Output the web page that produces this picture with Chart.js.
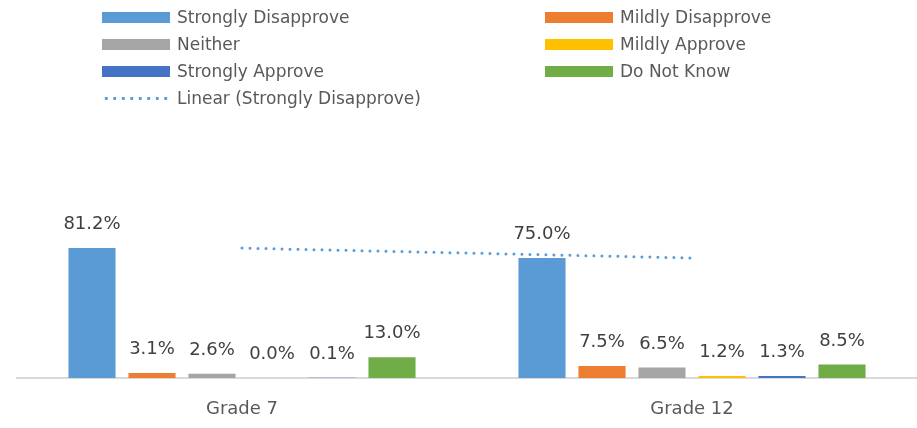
<!DOCTYPE html>
<html>
<head>
<meta charset="utf-8">
<script src="https://cdn.jsdelivr.net/npm/chart.js@4.4.1/dist/chart.umd.min.js"></script>
<style>
  html, body { margin: 0; padding: 0; background: #fff; }
  #wrap { position: relative; width: 917px; height: 428px; overflow: hidden; }
  #c { position: absolute; left: 0; top: 0; }
  .lg { position: absolute; font-family: "DejaVu Sans", sans-serif; font-size: 17px; color: #595959; white-space: nowrap; }
  .lg .sw { position: absolute; width: 68px; height: 11px; }
  .lg .tx { position: absolute; line-height: 20px; }
</style>
</head>
<body>
<div id="wrap">
  <canvas id="c" width="917" height="428"></canvas>
</div>
<script>
// ---- data ----
const categories = ['Grade 7', 'Grade 12'];
const seriesNames = ['Strongly Disapprove', 'Mildly Disapprove', 'Neither', 'Mildly Approve', 'Strongly Approve', 'Do Not Know'];
const stronglyDisapprove = [81.2, 75.0];
const mildlyDisapprove = [3.1, 7.5];
const neither = [2.6, 6.5];
const mildlyApprove = [0.0, 1.2];
const stronglyApprove = [0.1, 1.3];
const doNotKnow = [13.0, 8.5];
const trendName = 'Linear (Strongly Disapprove)';
const seriesColors = ['#5B9BD5', '#ED7D31', '#A5A5A5', '#FFC000', '#4472C4', '#70AD47'];

const seriesValues = [stronglyDisapprove, mildlyDisapprove, neither, mildlyApprove, stronglyApprove, doNotKnow];

const datasets = seriesNames.map((name, i) => ({
  type: 'bar',
  label: name,
  data: seriesValues[i],
  backgroundColor: seriesColors[i],
  categoryPercentage: 0.8,
  barPercentage: 0.785,
  order: 2
}));
datasets.push({
  type: 'line',
  label: trendName,
  data: stronglyDisapprove,
  borderColor: '#5B9BD5',
  borderWidth: 3,
  borderDash: [0, 8],
  borderCapStyle: 'round',
  pointRadius: 0,
  fill: false,
  tension: 0,
  order: 1,
  isTrend: true
});

const labelPlugin = {
  id: 'barLabels',
  afterDatasetsDraw(chart) {
    const ctx = chart.ctx;
    ctx.save();
    ctx.font = '18px "DejaVu Sans", sans-serif';
    ctx.fillStyle = '#404040';
    ctx.textAlign = 'center';
    ctx.textBaseline = 'middle';
    chart.data.datasets.forEach((ds, di) => {
      if (ds.type !== 'bar') return;
      const meta = chart.getDatasetMeta(di);
      meta.data.forEach((el, i) => {
        ctx.fillText(ds.data[i].toFixed(1) + '%', el.x, el.y - 23.5);
      });
    });
    ctx.restore();
  }
};

const chart = new Chart(document.getElementById('c'), {
  data: { labels: categories, datasets },
  options: {
    responsive: false,
    animation: false,
    layout: { padding: { top: 234, left: 17, right: 0, bottom: 0 } },
    plugins: { legend: { display: false }, tooltip: { enabled: false } },
    scales: {
      x: {
        offset: true,
        grid: { display: false, drawTicks: false },
        border: { display: true, color: '#D9D9D9', width: 2 },
        ticks: { color: '#595959', font: { family: 'DejaVu Sans', size: 18 }, padding: 21 },
        afterFit(s) { s.height = 50; }
      },
      y: {
        display: false,
        min: 0,
        max: 90
      }
    }
  },
  plugins: [labelPlugin]
});

// ---- HTML legend built from the series arrays ----
const wrap = document.getElementById('wrap');
const legendItems = seriesNames.map((n, i) => ({ name: n, color: seriesColors[i], dotted: false }));
legendItems.push({ name: trendName, color: '#5B9BD5', dotted: true });
const colX = [102, 545];
const rowY = [17, 44, 71, 98];
legendItems.forEach((it, k) => {
  const col = it.dotted ? 0 : k % 2;
  const row = it.dotted ? 3 : Math.floor(k / 2);
  const d = document.createElement('div');
  d.className = 'lg';
  d.style.left = colX[col] + 'px';
  d.style.top = (rowY[row] - 10) + 'px';
  const sw = document.createElement('div');
  sw.className = 'sw';
  if (it.dotted) {
    sw.style.height = '3px';
    sw.style.top = '9px';
    sw.style.background = 'radial-gradient(circle, ' + it.color + ' 1.4px, transparent 1.7px) 0 0 / 8.5px 3px repeat-x';
  } else {
    sw.style.top = '5px';
    sw.style.background = it.color;
  }
  d.appendChild(sw);
  const tx = document.createElement('div');
  tx.className = 'tx';
  tx.style.left = '75px';
  tx.style.top = '0px';
  tx.textContent = it.name;
  d.appendChild(tx);
  wrap.appendChild(d);
});
</script>
</body>
</html>
